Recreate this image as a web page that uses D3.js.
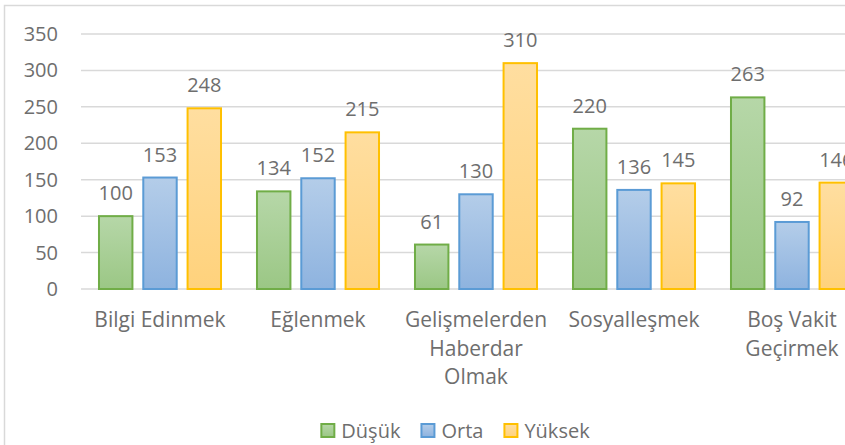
<!DOCTYPE html>
<html>
<head>
<meta charset="utf-8">
<script src="https://cdn.jsdelivr.net/npm/d3@7"></script>
<style>
  body { margin: 0; background: #fff; overflow: hidden; }
  text { font-family: "Open Sans", Lato, sans-serif; fill: #6e6e6e; }
</style>
</head>
<body>
<script>
const categories = ["Bilgi Edinmek", "Eğlenmek", "Gelişmelerden Haberdar Olmak", "Sosyalleşmek", "Boş Vakit Geçirmek"];
const categoryLines = [["Bilgi Edinmek"], ["Eğlenmek"], ["Gelişmelerden", "Haberdar", "Olmak"], ["Sosyalleşmek"], ["Boş Vakit", "Geçirmek"]];
const seriesNames = ["Düşük", "Orta", "Yüksek"];
const dusuk = [100, 134, 61, 220, 263];
const orta = [153, 152, 130, 136, 92];
const yuksek = [248, 215, 310, 145, 146];
const yTicks = [0, 50, 100, 150, 200, 250, 300, 350];

const colors = [
  { top: "#b6d7a8", bottom: "#9bc785", stroke: "#70ad47" },
  { top: "#b4cde9", bottom: "#8eb3df", stroke: "#5b9bd5" },
  { top: "#ffdea0", bottom: "#ffd27c", stroke: "#ffc000" }
];

const series = [dusuk, orta, yuksek];

const svg = d3.select("body").append("svg")
  .attr("width", 845)
  .attr("height", 445);

// chart frame (runs off the visible area)
svg.append("rect")
  .attr("x", 4.5).attr("y", 5.5)
  .attr("width", 1000).attr("height", 1000)
  .attr("fill", "none")
  .attr("stroke", "#d9d9d9")
  .attr("stroke-width", 1.5);

const defs = svg.append("defs");
colors.forEach((c, i) => {
  const g = defs.append("linearGradient")
    .attr("id", "grad" + i)
    .attr("x1", 0).attr("y1", 0).attr("x2", 0).attr("y2", 1);
  g.append("stop").attr("offset", "0%").attr("stop-color", c.top);
  g.append("stop").attr("offset", "100%").attr("stop-color", c.bottom);
});

const left = 81, plotW = 790;
const y = d3.scaleLinear().domain([0, 350]).range([289, 34]);
const x0 = d3.scaleBand().domain(categories).range([left, left + plotW]).paddingInner(0.215).paddingOuter(0.1075);
const x1 = d3.scaleBand().domain(seriesNames).range([0, x0.bandwidth()]).paddingInner(0.2);

// gridlines
svg.append("g")
  .selectAll("line")
  .data(yTicks)
  .join("line")
  .attr("x1", left).attr("x2", left + plotW)
  .attr("y1", d => y(d)).attr("y2", d => y(d))
  .attr("stroke", "#d9d9d9")
  .attr("stroke-width", 1.5);

// y tick labels
svg.append("g")
  .selectAll("text")
  .data(yTicks)
  .join("text")
  .attr("x", 58)
  .attr("y", d => y(d) + 7)
  .attr("text-anchor", "end")
  .style("font-size", "20px")
  .text(d => d);

// bars
const groups = svg.append("g")
  .selectAll("g")
  .data(categories)
  .join("g")
  .attr("transform", d => `translate(${x0(d)},0)`);

groups.selectAll("rect")
  .data((d, ci) => seriesNames.map((s, si) => ({ s, si, v: series[si][ci] })))
  .join("rect")
  .attr("x", d => x1(d.s) + 1)
  .attr("y", d => y(d.v))
  .attr("width", x1.bandwidth() - 2)
  .attr("height", d => y(0) - y(d.v))
  .attr("fill", d => `url(#grad${d.si})`)
  .attr("stroke", d => colors[d.si].stroke)
  .attr("stroke-width", 2);

groups.selectAll("text.val")
  .data((d, ci) => seriesNames.map((s, si) => ({ s, si, v: series[si][ci] })))
  .join("text")
  .attr("class", "val")
  .attr("x", d => x1(d.s) + x1.bandwidth() / 2)
  .attr("y", d => y(d.v) - 16)
  .attr("text-anchor", "middle")
  .style("font-size", "20px")
  .text(d => d.v);

// category labels
svg.append("g")
  .selectAll("text")
  .data(categories)
  .join("text")
  .attr("x", d => x0(d) + x0.bandwidth() / 2)
  .attr("y", 327)
  .attr("text-anchor", "middle")
  .style("font-size", "21px")
  .each(function (d, i) {
    d3.select(this).selectAll("tspan")
      .data(categoryLines[i])
      .join("tspan")
      .attr("x", x0(d) + x0.bandwidth() / 2)
      .attr("dy", (t, j) => j === 0 ? 0 : 28.5)
      .text(t => t);
  });

// legend
const legend = svg.append("g");
let lx = 0;
seriesNames.forEach((s, i) => {
  const g = legend.append("g").attr("transform", `translate(${lx},0)`);
  g.append("rect")
    .attr("x", 1).attr("y", 424)
    .attr("width", 13).attr("height", 13)
    .attr("fill", `url(#grad${i})`)
    .attr("stroke", colors[i].stroke)
    .attr("stroke-width", 2);
  const t = g.append("text")
    .attr("x", 21).attr("y", 438)
    .style("font-size", "20px")
    .text(s);
  lx += 21 + t.node().getComputedTextLength() + 20;
});
const legendW = lx - 20;
legend.attr("transform", `translate(${455 - legendW / 2},0)`);
</script>
</body>
</html>
